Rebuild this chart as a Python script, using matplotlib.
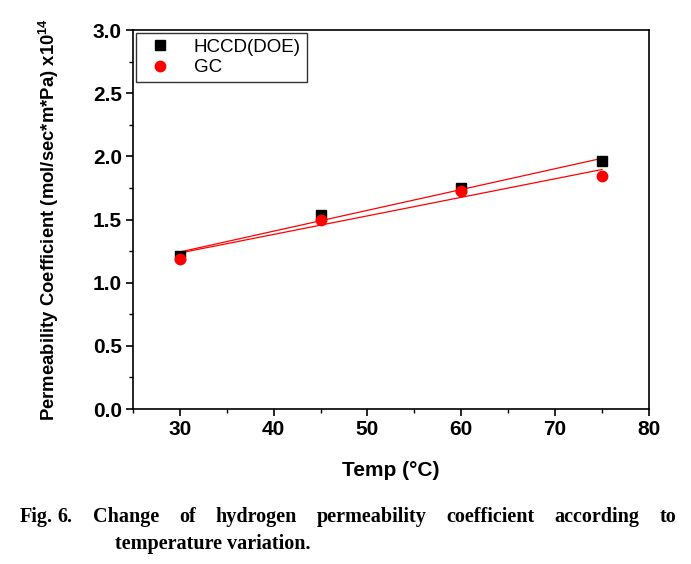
import numpy as np
import matplotlib.pyplot as plt
from matplotlib.ticker import MultipleLocator

# data
temp = [30, 45, 60, 75]
hccd = [1.21, 1.535, 1.747, 1.963]
gc = [1.19, 1.497, 1.728, 1.847]

plt.rcParams['font.family'] = ['Liberation Sans', 'DejaVu Sans']
plt.rcParams['mathtext.fontset'] = 'custom'
plt.rcParams['mathtext.rm'] = 'Liberation Sans'
plt.rcParams['mathtext.bf'] = 'Liberation Sans:bold'

fig = plt.figure(figsize=(6.91, 5.64), dpi=100)
ax = fig.add_axes([0.1925, 0.2748, 0.7465, 0.672])

ax.plot(temp, hccd, 's', color='black', markersize=7, label='HCCD(DOE)', zorder=3)
ax.plot(temp, gc, 'o', color='red', markersize=7.5, label='GC', zorder=4)

# linear fits
xs = np.array([temp[0], temp[-1]])
for ys in (hccd, gc):
    k, b = np.polyfit(temp, ys, 1)
    ax.plot(xs, k * xs + b, color='red', lw=0.9, zorder=2)

ax.set_xlim(25, 80)
ax.set_ylim(0, 3.0)
ax.xaxis.set_major_locator(MultipleLocator(10))
ax.xaxis.set_minor_locator(MultipleLocator(5))
ax.yaxis.set_major_locator(MultipleLocator(0.5))
ax.yaxis.set_minor_locator(MultipleLocator(0.25))
ax.yaxis.set_major_formatter(plt.FormatStrFormatter('%.1f'))
ax.tick_params(which='major', direction='out', length=5, width=1.2, labelsize=15, pad=3)
ax.tick_params(which='minor', direction='out', length=3, width=1.0)
for lab in ax.get_xticklabels() + ax.get_yticklabels():
    lab.set_fontweight('bold')
for s in ax.spines.values():
    s.set_linewidth(1.2)

ax.set_xlabel('Temp (°C)', fontsize=15, fontweight='bold')
ax.set_ylabel('Permeability Coefficient (mol/sec*m*Pa) x10$^{\\mathbf{14}}$',
              fontsize=13.3, fontweight='bold')
ax.xaxis.set_label_coords(0.5, -0.137)
ax.yaxis.set_label_coords(-0.140, 0.5)

leg = ax.legend(loc='upper left', fontsize=13.5, frameon=True, fancybox=False,
                edgecolor='black', borderaxespad=0.15, handletextpad=0.8,
                labelspacing=0.2, borderpad=0.3)
leg.get_frame().set_linewidth(1.0)

# caption, justified on the first line
cap = {'family': 'Liberation Serif', 'fontweight': 'bold', 'fontsize': 14.5}
words = ['Fig.', '6.', 'Change', 'of', 'hydrogen', 'permeability', 'coefficient',
         'according', 'to']
x0, x1, yline = 20 / 691, 676 / 691, 0.074
small = 0.007  # normal word space inside "Fig. 6."
objs = [fig.text(x0, yline, w, va='baseline', **cap) for w in words]
fig.canvas.draw()
r = fig.canvas.get_renderer()
widths = [o.get_window_extent(r).width / fig.bbox.width for o in objs]
gap = (x1 - x0 - sum(widths) - small) / (len(words) - 2)
x = x0
for i, (o, w) in enumerate(zip(objs, widths)):
    o.set_x(x)
    x += w + (small if i == 0 else gap)
fig.text(115 / 691, 0.027, 'temperature variation.', va='baseline', **cap)

fig.savefig('out.png', dpi=100)
